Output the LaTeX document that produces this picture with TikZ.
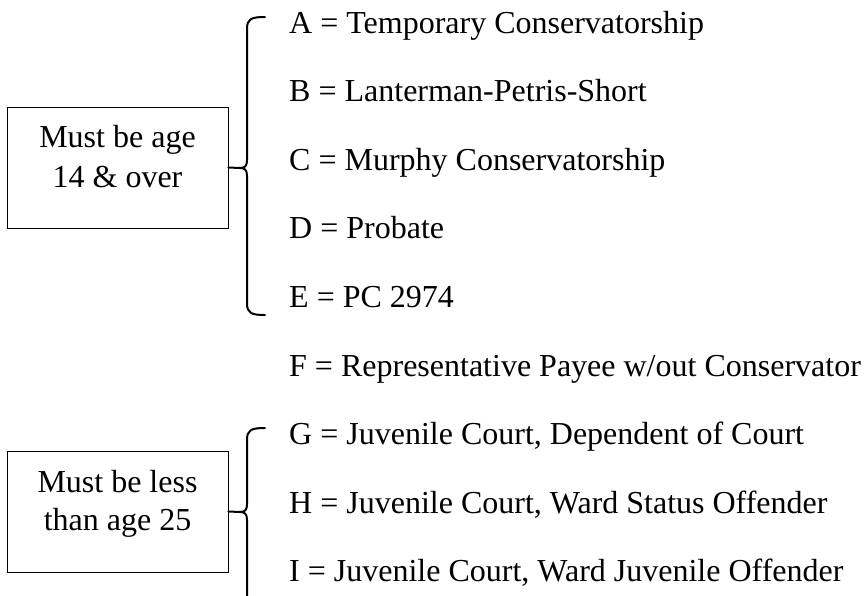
\documentclass[tikz,border=0pt]{standalone}
\usepackage{fontspec}
\setmainfont{Liberation Serif}
\begin{document}
\begin{tikzpicture}[x=1pt,y=-1pt,
  agebox/.style={draw, line width=0.9pt, minimum width=221pt, minimum height=121pt, inner sep=0pt},
  txt/.style={font=\fontsize{32}{38}\selectfont, inner sep=0pt},
  item/.style={txt, anchor=base west},
  bracestyle/.style={line width=2pt, line cap=round, line join=round}]
\clip (0,0) rectangle (865,595);
\fill[white] (0,0) rectangle (865,595);
% top group
\node[agebox] (boxA) at (117.5,167.5) {};
\node[txt, anchor=base] (boxAl1) at ([yshift=20.5pt]boxA.center) {Must be age};
\node[txt, anchor=base] (boxAl2) at ([yshift=-19.5pt]boxA.center) {14 \& over};
\coordinate (tipA) at (240,168);
\draw[bracestyle] (265,17) .. controls (251,17) and (247,19) .. (247,29) -- (247,160)
  .. controls (247,166) and (245,168) .. (tipA)
  .. controls (245,168) and (247,170) .. (247,176) -- (247,303)
  .. controls (247,313) and (251,315) .. (265,315);
\draw[bracestyle] (boxA.east) -- (tipA);
% bottom group
\node[agebox] (boxB) at (117.5,511.5) {};
\node[txt, anchor=base] (boxBl1) at ([yshift=19.5pt]boxB.center) {Must be less};
\node[txt, anchor=base] (boxBl2) at ([yshift=-18.5pt]boxB.center) {than age 25};
\coordinate (tipB) at (240,512);
\draw[bracestyle] (265,428) .. controls (251,428) and (247,430) .. (247,440) -- (247,504)
  .. controls (247,510) and (245,512) .. (tipB)
  .. controls (245,512) and (247,514) .. (247,520) -- (247,610);
\draw[bracestyle] (boxB.east) -- (tipB);
% items
\node[item] (iA) at (289,33)    {A = Temporary Conservatorship};
\node[item] (iB) at (289,101.6) {B = Lanterman-Petris-Short};
\node[item] (iC) at (289,170.2) {C = Murphy Conservatorship};
\node[item] (iD) at (289,238.8) {D = Probate};
\node[item] (iE) at (289,307.4) {E = PC 2974};
\node[item] (iF) at (289,376)   {F = Representative Payee w/out Conservator};
\node[item] (iG) at (289,444.6) {G = Juvenile Court, Dependent of Court};
\node[item] (iH) at (289,513.2) {H = Juvenile Court, Ward Status Offender};
\node[item] (iI) at (289,581.8) {I = Juvenile Court, Ward Juvenile Offender};
\end{tikzpicture}
\end{document}
